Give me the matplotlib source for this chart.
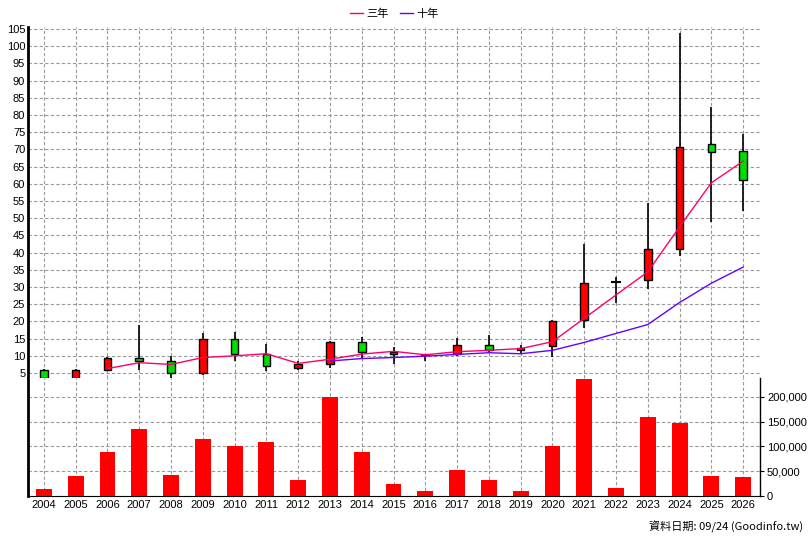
import matplotlib
matplotlib.use("Agg")
import matplotlib.pyplot as plt
from matplotlib.lines import Line2D
from matplotlib.ticker import FuncFormatter

plt.rcParams['font.family'] = ['Liberation Sans', 'Noto Sans CJK TC']

years = list(range(2004, 2027))
opens  = [6, 3.5, 6, 9.5, 8.5, 5, 15, 10.5, 6.5, 7.5, 14, 11, 10, 10.4, 13.1, 11.7, 12.8, 20.4, 31.4, 32, 41.2, 71.6, 69.5]
closes = [3.5, 6, 9.5, 8.5, 5, 15, 10.5, 7, 7.5, 14, 11, 10.5, 10.2, 13.1, 11.6, 12.2, 20.1, 31.1, 31.6, 41.2, 70.6, 69.4, 61]
highs  = [6.2, 6.2, 9.6, 19, 10, 16.5, 17, 13.5, 8.5, 14.2, 15.5, 12.5, 10.5, 15.2, 16, 13, 20.5, 42.4, 33, 54.5, 104, 82.2, 74.5]
lows   = [3, 3.3, 5.5, 6, 3.5, 4.5, 8.5, 5.5, 6, 6.5, 9, 7.5, 8.6, 10, 11, 10.5, 9.7, 18, 25.4, 29.4, 39, 49, 52]
ma3_years = list(range(2006, 2027))
ma3 = [6.3, 8, 7.5, 9.5, 10, 10.6, 7.8, 9, 10.5, 11.3, 10.3, 11.2, 11.6, 12.1, 14.1, 20.9, 27.7, 34.4, 47.5, 60.3, 66.6]
ma10_years = list(range(2013, 2027))
ma10 = [8.5, 9.2, 9.5, 9.9, 10.4, 10.9, 10.6, 11.6, 13.9, 16.5, 19.1, 25.5, 31.1, 35.8]
volumes = [15000, 40000, 89000, 135000, 42000, 115000, 101000, 109000, 32000, 200000, 89000, 24000,
           10000, 53000, 32000, 10000, 101000, 236000, 16000, 160000, 148000, 40000, 38000]

fig = plt.figure(figsize=(8.08, 5.40), dpi=100)
fig.patch.set_facecolor('white')
ax = fig.add_axes([28/808, 1-378/540, 732/808, 351/540])
axv = fig.add_axes([28/808, 1-496/540, 732/808, 118/540], sharex=ax)

grid_kw = dict(color='#999999', linestyle=(0, (3, 2)), linewidth=0.8)
for i, y in enumerate(years):
    o, c, h, l = opens[i], closes[i], highs[i], lows[i]
    col = '#ff0000' if c >= o else '#00dd00'
    ax.vlines(y, l, h, color='black', linewidth=1.2, zorder=3)
    lo, hi = min(o, c), max(o, c)
    if hi - lo < 0.3:
        ax.hlines((o + c) / 2, y - 0.15, y + 0.15, color='black', linewidth=1.5, zorder=4)
    else:
        ax.bar(y, hi - lo, bottom=lo, width=0.24, color=col, edgecolor='black', linewidth=1, zorder=4)
ax.plot(ma3_years, ma3, color='#ff0066', linewidth=1, zorder=5)
ax.plot(ma10_years, ma10, color='#6600ff', linewidth=1, zorder=5)
ax.set_ylim(3.55, 105.6)
ax.set_xlim(2003.5, 2026.53)
ax.set_yticks(range(5, 106, 5))
ax.set_xticks(years)
ax.grid(True, **grid_kw)
ax.tick_params(labelbottom=False, labelsize=8, length=0, pad=2)
for s in ['top', 'right']:
    ax.spines[s].set_visible(False)
ax.spines['left'].set_linewidth(2)
ax.spines['bottom'].set_visible(False)

axv.bar(years, volumes, width=0.5, color='#ff0000', zorder=3)
axv.set_ylim(0, 238000)
axv.set_yticks(range(0, 200001, 50000))
axv.grid(True, **grid_kw)
axv.yaxis.tick_right()
axv.yaxis.set_major_formatter(FuncFormatter(lambda v, p: f"{int(v):,}"))
axv.tick_params(axis='y', labelsize=8, length=3, pad=2)
axv.tick_params(axis='x', labelsize=8, length=0, pad=3)
axv.set_xticklabels([str(y) for y in years])
axv.spines['top'].set_visible(False)
axv.spines['left'].set_linewidth(2)
axv.spines['right'].set_linewidth(1)

handles = [Line2D([], [], color='#ff0066', lw=1), Line2D([], [], color='#6600ff', lw=1)]
fig.legend(handles, ['三年', '十年'], loc='center', bbox_to_anchor=(394/808, 1-14/540), ncol=2,
           frameon=False, handlelength=1.2, handletextpad=0.3, columnspacing=1,
           prop={'family': ['Noto Sans CJK TC'], 'size': 8})
fig.text(803/808, 1-527/540, '資料日期: 09/24 (Goodinfo.tw)', ha='right', va='center',
         fontsize=8, family=['Noto Sans CJK TC', 'Liberation Sans'])
fig.savefig('out.png', dpi=100)
